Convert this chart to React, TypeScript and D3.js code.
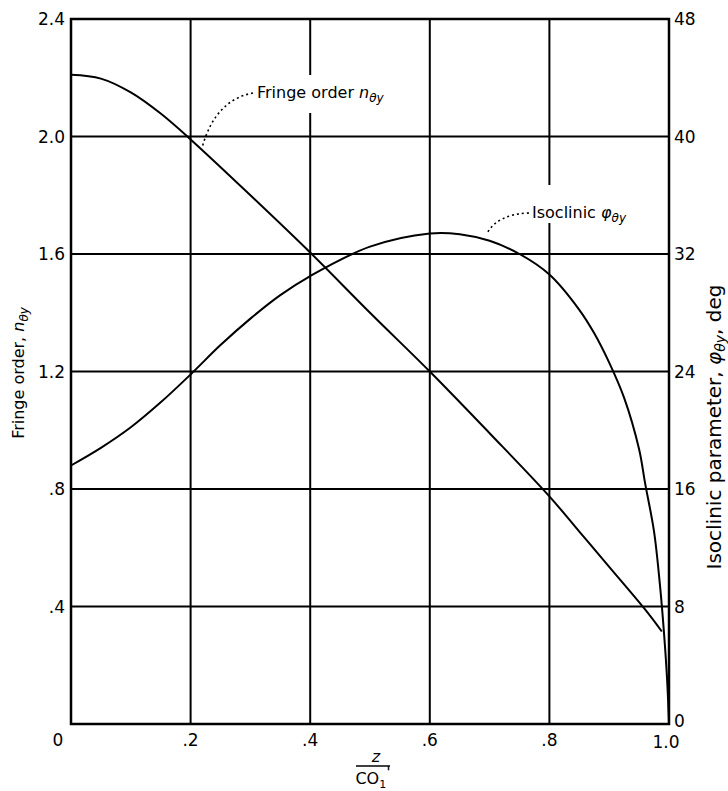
import React from "react";
import * as d3 from "d3";

// ---- data ----
const fringeX = [0, 0.05, 0.1, 0.15, 0.2, 0.3, 0.4, 0.5, 0.6, 0.7, 0.8, 0.85, 0.9, 0.96, 0.988];
const fringeN = [2.21, 2.197, 2.15, 2.078, 1.99, 1.8, 1.605, 1.4, 1.2, 0.99, 0.775, 0.655, 0.535, 0.39, 0.315];

const isoX = [0, 0.05, 0.1, 0.15, 0.2, 0.25, 0.3, 0.35, 0.4, 0.5, 0.6, 0.65, 0.7, 0.75, 0.8, 0.85, 0.875, 0.9, 0.925, 0.95, 0.96, 0.975, 0.985, 0.992, 0.997, 1.0];
const isoDeg = [17.6, 18.8, 20.2, 21.9, 23.8, 25.8, 27.6, 29.2, 30.5, 32.5, 33.4, 33.35, 32.9, 32.0, 30.6, 28.2, 26.6, 24.6, 22.2, 18.7, 16.4, 13.1, 9.4, 6.0, 2.9, 0];

const xTicks = [0, 0.2, 0.4, 0.6, 0.8, 1.0];
const xTickLabels = ["0", ".2", ".4", ".6", ".8", "1.0"];
const leftTicks = [0.4, 0.8, 1.2, 1.6, 2.0, 2.4];
const leftTickLabels = [".4", ".8", "1.2", "1.6", "2.0", "2.4"];
const rightTicks = [0, 8, 16, 24, 32, 40, 48];
const rightTickLabels = ["0", "8", "16", "24", "32", "40", "48"];

const FONT = "'DejaVu Sans', 'Liberation Sans', sans-serif";

export default function App() {
  const W = 728, H = 791;
  const L = 71, R = 669, T = 19, B = 724;
  const x = d3.scaleLinear().domain([0, 1]).range([L, R]);
  const yL = d3.scaleLinear().domain([0, 2.4]).range([B, T]);
  const yR = d3.scaleLinear().domain([0, 48]).range([B, T]);

  const fringePts = fringeX.map((v, i) => [v, fringeN[i]] as [number, number]);
  const isoPts = isoX.map((v, i) => [v, isoDeg[i]] as [number, number]);

  const fringeLine = d3.line<[number, number]>()
    .x(d => x(d[0])).y(d => yL(d[1])).curve(d3.curveCatmullRom.alpha(0.5));
  const isoLine = d3.line<[number, number]>()
    .x(d => x(d[0])).y(d => yR(d[1])).curve(d3.curveCatmullRom.alpha(0.5));

  // annotation anchors on the curves
  const fA = [x(0.218), yL(1.955)];
  const iA = [x(0.695), yR(33.2)];
  const fLabel = [257, 98];
  const iLabel = [532, 218];

  return (
    <svg width={W} height={H} style={{ position: "absolute", left: 0, top: 0, background: "#fff" }}
      fontFamily={FONT}>
      <rect x={0} y={0} width={W} height={H} fill="#fff" />
      {/* grid */}
      <g stroke="#000" strokeWidth={2}>
        {xTicks.slice(1, -1).map(t => (
          <line key={"vx" + t} x1={x(t)} x2={x(t)} y1={T} y2={B} />
        ))}
        {leftTicks.slice(0, -1).map(t => (
          <line key={"hy" + t} x1={L} x2={R} y1={yL(t)} y2={yL(t)} />
        ))}
      </g>
      {/* label knock-outs */}
      <rect x={fLabel[0] - 4} y={75} width={122} height={38} fill="#fff" />
      <rect x={iLabel[0] - 4} y={185} width={110} height={38} fill="#fff" />
      {/* curves */}
      <path d={fringeLine(fringePts) || ""} fill="none" stroke="#000" strokeWidth={2} />
      <path d={isoLine(isoPts) || ""} fill="none" stroke="#000" strokeWidth={2} />
      {/* leaders */}
      <path d={`M${fLabel[0] - 4},${fLabel[1] - 5} Q${fA[0] + 14},${fLabel[1] + 2} ${fA[0] + 1},${fA[1] - 3}`}
        fill="none" stroke="#000" strokeWidth={1.6} strokeDasharray="2,3" />
      <path d={`M${iLabel[0] - 3},${iLabel[1] - 5} Q${iA[0] + 12},${iLabel[1] - 4} ${iA[0] + 1},${iA[1] - 4}`}
        fill="none" stroke="#000" strokeWidth={1.6} strokeDasharray="2,3" />
      {/* frame */}
      <rect x={L} y={T} width={R - L} height={B - T} fill="none" stroke="#000" strokeWidth={2.5} />

      {/* annotation labels */}
      <text x={fLabel[0]} y={fLabel[1]} fontSize={16}>
        Fringe order <tspan fontStyle="italic">n</tspan>
        <tspan fontStyle="italic" fontSize={12} dy={4}>θy</tspan>
      </text>
      <text x={iLabel[0]} y={iLabel[1]} fontSize={16}>
        Isoclinic <tspan fontStyle="italic">φ</tspan>
        <tspan fontStyle="italic" fontSize={12} dy={4}>θy</tspan>
      </text>

      {/* tick labels */}
      <g fontSize={17}>
        {leftTicks.map((t, i) => (
          <text key={"lt" + t} x={L - 6} y={yL(t)} dy="0.36em" textAnchor="end">{leftTickLabels[i]}</text>
        ))}
        {rightTicks.map((t, i) => (
          <text key={"rt" + t} x={R + 5} y={yR(t)} dy={i === 0 ? "0.2em" : "0.36em"} textAnchor="start">{rightTickLabels[i]}</text>
        ))}
        {xTicks.map((t, i) => (
          <text key={"xt" + t} x={i === 0 ? x(t) - 13 : x(t) - (i === xTicks.length - 1 ? 3 : 0)} y={i === xTicks.length - 1 ? 748 : 746} textAnchor="middle">{xTickLabels[i]}</text>
        ))}
      </g>

      {/* axis titles */}
      <text transform="translate(24,373) rotate(-90)" textAnchor="middle" fontSize={16}>
        Fringe order, <tspan fontStyle="italic">n</tspan>
        <tspan fontStyle="italic" fontSize={12} dy={4}>θy</tspan>
      </text>
      <text transform="translate(721,427) rotate(-90)" textAnchor="middle" fontSize={20}>
        Isoclinic parameter, <tspan fontStyle="italic">φ</tspan>
        <tspan fontStyle="italic" fontSize={14} dy={4}>θy</tspan>
        <tspan dy={-4}>, deg</tspan>
      </text>
      <g fontSize={16}>
        <text x={376} y={762} textAnchor="middle" fontStyle="italic">z</text>
        <line x1={356} x2={390} y1={766} y2={766} stroke="#000" strokeWidth={1.6} />
        <text x={373} y={784} textAnchor="middle">
          CO<tspan fontSize={11} dy={4}>1</tspan><tspan dy={-10}>'</tspan>
        </text>
      </g>
    </svg>
  );
}
